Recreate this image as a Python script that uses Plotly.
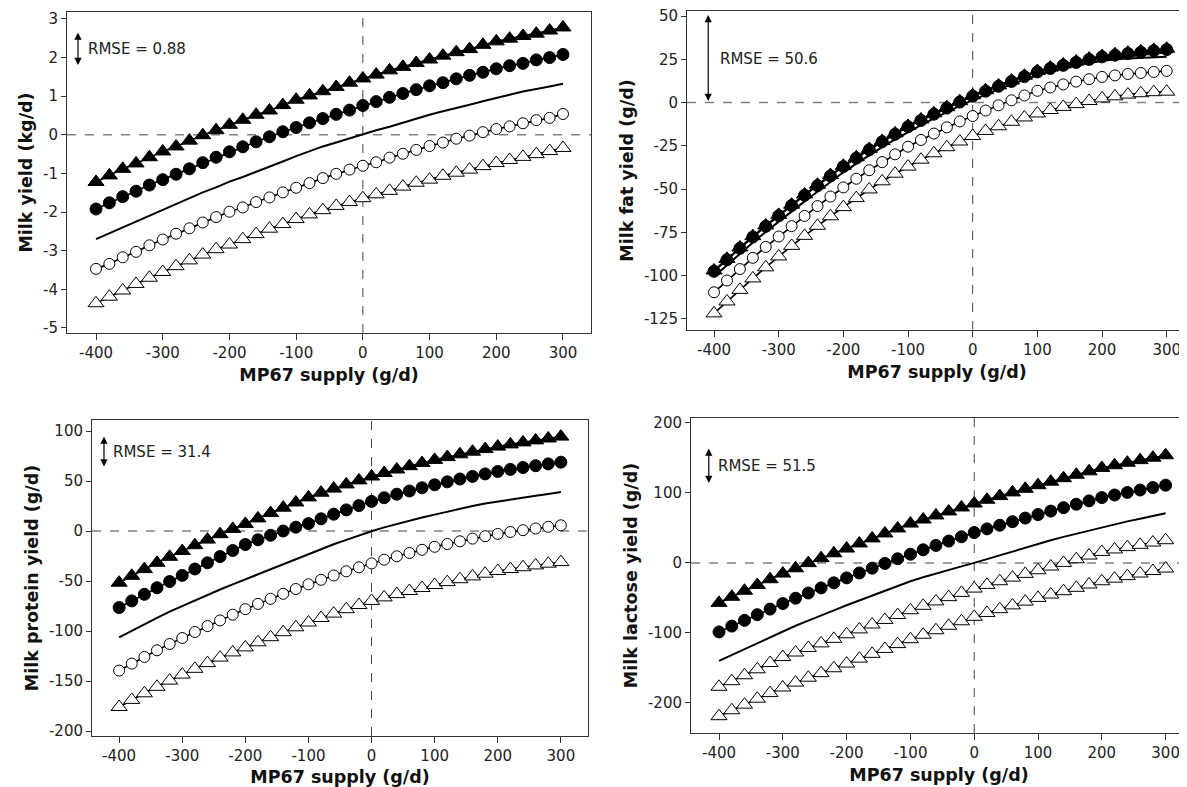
import plotly.graph_objects as go

# ---------------- data ----------------
x_supply = list(range(-400, 301, 20))  # MP67 supply (g/d)

# Panel 1: Milk yield (kg/d)
milk_filled_tri = [-1.22, -1.05, -0.88, -0.74, -0.58, -0.43, -0.30, -0.15, -0.01, 0.12, 0.26, 0.39, 0.52, 0.63, 0.77, 0.91, 1.02, 1.13, 1.24, 1.35, 1.46, 1.56, 1.67, 1.76, 1.86, 1.95, 2.05, 2.14, 2.22, 2.33, 2.42, 2.49, 2.56, 2.62, 2.70, 2.78]
milk_filled_circ = [-1.92, -1.76, -1.60, -1.46, -1.30, -1.16, -1.02, -0.88, -0.72, -0.58, -0.44, -0.31, -0.18, -0.05, 0.08, 0.19, 0.31, 0.42, 0.53, 0.64, 0.76, 0.86, 0.97, 1.07, 1.17, 1.27, 1.35, 1.45, 1.54, 1.62, 1.71, 1.79, 1.85, 1.94, 2.00, 2.08]
milk_line = [-2.70, -2.55, -2.40, -2.24, -2.09, -1.93, -1.79, -1.64, -1.49, -1.36, -1.21, -1.09, -0.96, -0.84, -0.69, -0.55, -0.42, -0.30, -0.20, -0.09, 0.00, 0.12, 0.21, 0.32, 0.41, 0.52, 0.61, 0.69, 0.78, 0.87, 0.96, 1.04, 1.12, 1.18, 1.25, 1.32]
milk_open_circ = [-3.47, -3.34, -3.17, -3.03, -2.86, -2.71, -2.56, -2.42, -2.27, -2.13, -1.99, -1.88, -1.74, -1.62, -1.49, -1.37, -1.25, -1.12, -1.01, -0.90, -0.80, -0.71, -0.59, -0.49, -0.39, -0.29, -0.20, -0.10, -0.02, 0.07, 0.15, 0.22, 0.30, 0.38, 0.44, 0.54]
milk_open_tri = [-4.36, -4.19, -4.03, -3.86, -3.70, -3.55, -3.40, -3.25, -3.10, -2.96, -2.84, -2.70, -2.57, -2.43, -2.31, -2.18, -2.06, -1.95, -1.84, -1.74, -1.64, -1.54, -1.45, -1.34, -1.24, -1.16, -1.06, -0.98, -0.90, -0.81, -0.73, -0.65, -0.57, -0.50, -0.42, -0.34]

# Panel 2: Milk fat yield (g/d)
fat_filled_tri = [-97.0, -90.3, -83.7, -77.2, -71.0, -64.9, -59.0, -53.1, -47.5, -41.9, -36.5, -31.6, -26.8, -22.2, -17.8, -13.5, -9.8, -6.2, -2.7, 0.8, 4.2, 7.1, 9.9, 12.7, 15.5, 18.2, 20.2, 22.0, 23.7, 25.4, 26.9, 27.9, 28.8, 29.6, 30.4, 31.1]
fat_filled_circ = [-97.5, -90.8, -84.2, -77.7, -71.5, -65.4, -59.5, -53.6, -48.0, -42.4, -37.0, -32.1, -27.3, -22.7, -18.3, -14.0, -10.3, -6.7, -3.2, 0.3, 3.7, 6.6, 9.4, 12.2, 15.0, 17.7, 19.7, 21.5, 23.2, 24.9, 26.4, 27.4, 28.3, 29.1, 29.9, 30.6]
fat_line = [-100.5, -93.8, -87.3, -80.9, -74.7, -68.7, -62.8, -57.1, -51.5, -45.7, -40.3, -35.3, -30.4, -25.8, -21.3, -17.0, -13.0, -9.1, -5.3, -1.9, 1.4, 4.7, 7.7, 10.6, 13.3, 15.8, 17.9, 19.8, 21.5, 23.0, 24.2, 25.0, 25.5, 25.8, 26.1, 26.4]
fat_open_circ = [-109.6, -102.8, -96.2, -89.7, -83.4, -77.4, -71.4, -65.5, -59.8, -54.3, -49.0, -44.0, -39.1, -34.4, -29.9, -25.5, -21.6, -17.9, -14.3, -10.9, -7.8, -4.6, -1.6, 1.3, 4.1, 6.8, 8.7, 10.5, 12.1, 13.5, 14.8, 15.7, 16.5, 17.1, 17.7, 18.3]
fat_open_tri = [-121.8, -114.9, -108.2, -101.6, -95.2, -88.9, -82.8, -77.0, -71.2, -65.7, -60.4, -55.2, -50.2, -45.5, -41.1, -37.0, -33.0, -29.3, -25.8, -22.5, -19.3, -16.4, -13.7, -11.1, -8.6, -6.3, -4.3, -2.5, -0.9, 0.9, 2.4, 3.6, 4.6, 5.4, 6.0, 6.3]

# Panel 3: Milk protein yield (g/d)
prot_filled_tri = [-51.7, -44.8, -38.1, -31.8, -25.8, -20.0, -14.2, -8.6, -3.2, 2.1, 7.1, 12.6, 18.0, 23.3, 28.5, 33.6, 38.3, 42.4, 46.6, 50.6, 54.5, 58.0, 61.5, 64.8, 68.0, 71.1, 73.9, 76.7, 79.3, 81.9, 84.4, 86.6, 88.6, 90.6, 92.5, 94.4]
prot_filled_circ = [-76.6, -69.9, -63.3, -56.8, -50.5, -44.4, -38.0, -31.8, -25.6, -19.5, -13.5, -8.8, -4.3, 0.0, 3.8, 7.4, 12.2, 16.8, 21.1, 25.4, 29.6, 33.3, 36.8, 40.0, 43.2, 46.2, 49.2, 52.0, 54.6, 57.1, 59.5, 61.6, 63.5, 65.3, 67.1, 68.8]
prot_line = [-106.4, -99.7, -93.2, -86.8, -80.6, -74.9, -69.2, -63.6, -58.5, -53.4, -48.4, -43.4, -38.2, -33.4, -28.0, -22.8, -18.0, -13.3, -8.9, -4.4, -0.2, 3.6, 7.0, 10.3, 13.5, 16.4, 19.4, 22.4, 25.0, 27.5, 29.6, 31.6, 33.6, 35.3, 37.1, 38.9]
prot_open_circ = [-139.6, -132.6, -125.9, -119.3, -113.0, -107.0, -101.0, -95.1, -89.4, -83.7, -78.2, -72.9, -67.8, -62.8, -58.0, -53.3, -48.8, -44.5, -40.3, -36.3, -32.4, -28.7, -25.3, -22.0, -18.8, -15.8, -13.0, -10.3, -7.6, -5.2, -2.9, -1.0, 0.8, 2.5, 4.2, 5.7]
prot_open_tri = [-176.0, -168.9, -162.3, -155.8, -149.6, -143.6, -137.8, -132.1, -126.6, -121.4, -116.4, -111.3, -106.2, -101.2, -96.3, -91.5, -87.0, -82.6, -78.2, -74.0, -69.9, -66.4, -63.1, -60.0, -57.0, -54.0, -51.1, -48.2, -45.4, -42.7, -40.0, -38.0, -36.2, -34.4, -32.7, -31.1]

# Panel 4: Milk lactose yield (g/d)
lact_filled_tri = [-57.1, -48.4, -39.8, -31.5, -23.3, -15.2, -7.7, -0.3, 6.8, 13.7, 20.5, 27.8, 35.0, 42.1, 49.2, 56.2, 62.0, 67.8, 73.5, 79.2, 84.8, 90.2, 95.5, 100.7, 105.9, 111.0, 116.0, 121.0, 125.9, 130.8, 135.7, 139.5, 143.1, 146.8, 150.3, 153.8]
lact_filled_circ = [-98.6, -90.3, -82.1, -74.0, -66.0, -58.1, -50.5, -43.0, -35.7, -28.5, -21.4, -14.4, -7.5, -0.7, 5.9, 12.4, 18.7, 25.0, 31.2, 37.3, 43.3, 48.6, 53.8, 58.9, 64.0, 69.0, 74.0, 78.9, 83.8, 88.6, 93.3, 97.0, 100.6, 104.1, 107.6, 111.0]
lact_line = [-140.0, -131.5, -123.0, -114.5, -106.0, -97.6, -89.8, -82.5, -75.6, -67.9, -60.5, -53.5, -46.6, -39.5, -32.7, -26.2, -20.5, -15.0, -10.0, -5.0, 0.0, 5.5, 11.0, 16.5, 22.0, 27.5, 32.4, 37.2, 41.8, 46.5, 51.0, 55.0, 59.3, 63.0, 67.0, 71.0]
lact_open_tri_a = [-177.0, -169.0, -160.5, -152.0, -143.0, -134.5, -128.0, -121.5, -115.0, -108.5, -102.0, -95.0, -88.0, -81.5, -74.5, -67.6, -61.3, -55.0, -48.9, -42.8, -36.7, -31.4, -26.2, -21.0, -15.7, -10.5, -5.2, 0.0, 5.2, 10.5, 15.7, 19.2, 22.5, 25.8, 29.1, 32.4]
lact_open_tri_b = [-219.0, -210.5, -202.5, -194.0, -186.0, -178.0, -171.0, -164.0, -157.5, -150.5, -143.8, -136.8, -129.9, -122.9, -116.0, -109.0, -102.6, -96.2, -89.8, -83.4, -77.0, -71.5, -66.1, -60.7, -55.3, -50.0, -45.2, -40.4, -35.6, -30.9, -26.2, -22.5, -18.9, -15.2, -11.6, -8.1]

# axis labels and ticks
x_title = "MP67 supply (g/d)"
y_titles = ["Milk yield (kg/d)", "Milk fat yield (g/d)", "Milk protein yield (g/d)", "Milk lactose yield (g/d)"]
x_tickvals = [-400, -300, -200, -100, 0, 100, 200, 300]
y_tickvals = [
    [-5, -4, -3, -2, -1, 0, 1, 2, 3],
    [-125, -100, -75, -50, -25, 0, 25, 50],
    [-200, -150, -100, -50, 0, 50, 100],
    [-200, -100, 0, 100, 200],
]
rmse_text = ["RMSE = 0.88", "RMSE = 50.6", "RMSE = 31.4", "RMSE = 51.5"]
rmse_values = [0.88, 50.6, 31.4, 51.5]
rmse_low = [1.77, 0.0, 63.0, 112.0]

# ---------------- layout geometry ----------------
OFF = 8                     # page body margin of the html page
W, H = 1187 - OFF, 787 - OFF
FONT = "DejaVu Sans"

def px_dom(a, b):
    return [max(0, (a - OFF) / W), min(1, (b - OFF) / W)]

def py_dom(top, bottom):
    return [1 - (bottom - OFF) / H, 1 - (top - OFF) / H]

panels = [
    dict(xd=px_dom(67, 591), yd=py_dom(12, 333), xr=[-443.5, 342], yr=[-5.13, 3.18], full=True,
         arrow_x=-427, text_x=-415),
    dict(xd=px_dom(687, 1187), yd=py_dom(11, 330), xr=[-441.8, 331.4], yr=[-131.4, 52.9], full=False,
         arrow_x=-409, text_x=-394),
    dict(xd=px_dom(92, 588), yd=py_dom(420, 736), xr=[-443, 343], yr=[-205, 111], full=True,
         arrow_x=-424, text_x=-413),
    dict(xd=px_dom(691, 1187), yd=py_dom(418, 733), xr=[-443.9, 333.5], yr=[-243, 207], full=False,
         arrow_x=-416, text_x=-404),
]

series = [
    [(milk_filled_tri, "tri_f"), (milk_filled_circ, "circ_f"), (milk_line, "line"), (milk_open_circ, "circ_o"), (milk_open_tri, "tri_o")],
    [(fat_line, "line"), (fat_open_circ, "circ_o"), (fat_open_tri, "tri_o"), (fat_filled_circ, "circ_f"), (fat_filled_tri, "tri_f")],
    [(prot_filled_tri, "tri_f"), (prot_filled_circ, "circ_f"), (prot_line, "line"), (prot_open_circ, "circ_o"), (prot_open_tri, "tri_o")],
    [(lact_filled_tri, "tri_f"), (lact_filled_circ, "circ_f"), (lact_line, "line"), (lact_open_tri_a, "tri_o"), (lact_open_tri_b, "tri_o")],
]

styles = {
    "tri_f": dict(mode="lines+markers", marker=dict(symbol="triangle-up", size=14, color="black", line=dict(color="black", width=1))),
    "circ_f": dict(mode="lines+markers", marker=dict(symbol="circle", size=12, color="black", line=dict(color="black", width=1))),
    "circ_o": dict(mode="lines+markers", marker=dict(symbol="circle", size=11, color="white", line=dict(color="black", width=1))),
    "tri_o": dict(mode="lines+markers", marker=dict(symbol="triangle-up", size=14, color="white", line=dict(color="black", width=1))),
    "line": dict(mode="lines"),
}

fig = go.Figure()
layout = dict(
    width=W, height=H,
    margin=dict(l=0, r=0, t=0, b=0),
    paper_bgcolor="white", plot_bgcolor="white",
    showlegend=False,
    font=dict(family=FONT, size=15, color="#222"),
    shapes=[], annotations=[],
)

for i, p in enumerate(panels):
    n = i + 1
    xa = "x" if n == 1 else f"x{n}"
    ya = "y" if n == 1 else f"y{n}"
    xkey = "xaxis" if n == 1 else f"xaxis{n}"
    ykey = "yaxis" if n == 1 else f"yaxis{n}"

    for vals, kind in series[i]:
        st = styles[kind]
        kw = dict(x=x_supply, y=vals, mode=st["mode"], xaxis=xa, yaxis=ya,
                  line=dict(color="black", width=2 if kind == "line" else 1.7),
                  hoverinfo="skip")
        if "marker" in st:
            kw["marker"] = st["marker"]
        fig.add_trace(go.Scatter(**kw))

    layout[xkey] = dict(
        domain=p["xd"], anchor=ya, range=p["xr"], showgrid=False, zeroline=False,
        showline=True, linecolor="#333", linewidth=1, mirror=True,
        ticks="outside", ticklen=6, tickcolor="#333",
        tickvals=x_tickvals, ticktext=[str(v) for v in x_tickvals],
        tickfont=dict(family=FONT, size=15, color="#222"), ticklabeloverflow="allow",
        title=dict(text=f"<b>{x_title}</b>", font=dict(family=FONT, size=17.5, color="#111"), standoff=7),
        automargin=False,
    )
    layout[ykey] = dict(
        domain=p["yd"], anchor=xa, range=p["yr"], showgrid=False, zeroline=False,
        showline=True, linecolor="#333", linewidth=1, mirror=p["full"],
        ticks="outside", ticklen=5, tickcolor="#333",
        tickvals=y_tickvals[i], ticktext=[str(v) for v in y_tickvals[i]],
        tickfont=dict(family=FONT, size=15, color="#222"), ticklabeloverflow="allow",
        title=dict(text=f"<b>{y_titles[i]}</b>", font=dict(family=FONT, size=17.5, color="#111"), standoff=5),
        automargin=False,
    )

    # reference lines
    layout["shapes"].append(dict(type="line", xref=f"{xa} domain", yref=ya, x0=0, x1=1, y0=0, y1=0,
                                 line=dict(color="#808080", width=1.5, dash="dash"), layer="below"))
    layout["shapes"].append(dict(type="line", xref=xa, yref=f"{ya} domain", x0=0, x1=0, y0=0, y1=1,
                                 line=dict(color="#444", width=1, dash="dash"), layer="below"))

    # RMSE double arrow
    lo = rmse_low[i]
    hi = lo + rmse_values[i]
    layout["annotations"].append(dict(
        x=p["arrow_x"], y=hi, ax=p["arrow_x"], ay=lo, xref=xa, yref=ya, axref=xa, ayref=ya,
        text="", showarrow=True, arrowhead=2, startarrowhead=2, arrowside="end+start",
        arrowsize=1.2, startarrowsize=1.2, arrowwidth=1.2, arrowcolor="black"))
    layout["annotations"].append(dict(
        x=p["text_x"], y=(lo + hi) / 2, xref=xa, yref=ya, text=rmse_text[i], showarrow=False,
        xanchor="left", yanchor="middle", font=dict(family=FONT, size=15, color="#222")))

fig.update_layout(**layout)
fig.write_html("out.html")
